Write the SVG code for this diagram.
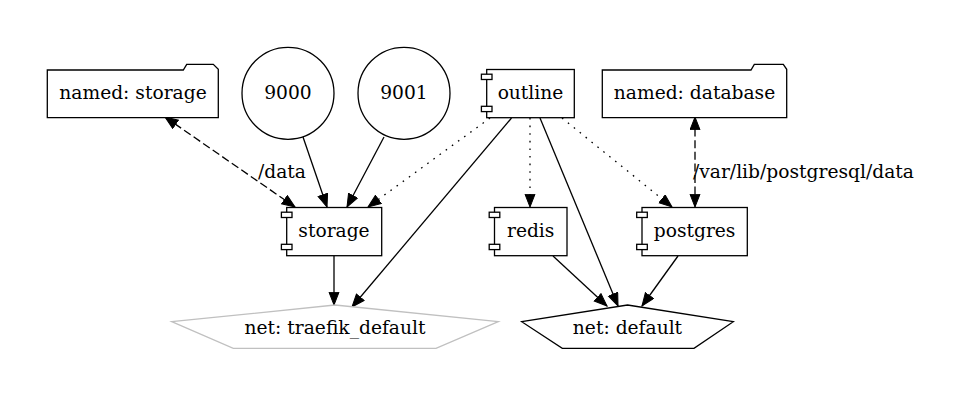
<svg xmlns="http://www.w3.org/2000/svg" width="965" height="401" viewBox="0 0 965 401">
<style>
text { font-family: "DejaVu Serif", "Liberation Serif", serif; font-size: 18.67px; fill: #000; }
.c { text-anchor: middle; }
.shape { fill: #fff; stroke: #000; stroke-width: 1.3; }
.gray { fill: #fff; stroke: #c0c0c0; stroke-width: 1.3; }
.e { fill: none; stroke: #000; stroke-width: 1.3; }
.dot { stroke-dasharray: 1.6,6; }
.dash { stroke-dasharray: 8,3.6; }
</style>
<defs>
<marker id="ah" markerUnits="userSpaceOnUse" markerWidth="16" markerHeight="12" refX="13.3" refY="5.5" orient="auto-start-reverse" viewBox="0 0 16 12">
<path d="M0.5,0.5 L13.3,5.5 L0.5,10.5 Z" fill="#000" stroke="#000" stroke-width="1"/>
</marker>
</defs>
<rect width="965" height="401" fill="#fff"/>
<g id="connectors">
<path class="e dash" d="M165,117 L295,207" marker-start="url(#ah)" marker-end="url(#ah)"/>
<text x="258" y="178">/data</text>
<path class="e" d="M303,137 L327,207" marker-end="url(#ah)"/>
<path class="e" d="M384,137 L347,207" marker-end="url(#ah)"/>
<path class="e dot" d="M490,118 L368,207" marker-end="url(#ah)"/>
<path class="e" d="M511.5,118 L352,307" marker-end="url(#ah)"/>
<path class="e dot" d="M530,118 L530,207" marker-end="url(#ah)"/>
<path class="e" d="M540,118 L618,306" marker-end="url(#ah)"/>
<path class="e dot" d="M562,118 L672,207" marker-end="url(#ah)"/>
<path class="e dash" d="M695,117 L695,207" marker-start="url(#ah)" marker-end="url(#ah)"/>
<text x="693" y="178">/var/lib/postgresql/data</text>
<path class="e" d="M334,256 L334,305" marker-end="url(#ah)"/>
<path class="e" d="M553,256 L607,306" marker-end="url(#ah)"/>
<path class="e" d="M678,256 L642,306" marker-end="url(#ah)"/>
</g>
<g id="named-storage">
<path class="shape" d="M218.3,117.7 L47.3,117.7 L47.3,70 L183.3,70 L186.7,64.3 L213.3,64.3 L218.3,69.3 Z"/>
<text class="c" x="133" y="99">named: storage</text>
</g>
<g id="p9000">
<circle class="shape" cx="288" cy="93.3" r="46"/>
<text class="c" x="288" y="99">9000</text>
</g>
<g id="p9001">
<circle class="shape" cx="404" cy="93.3" r="46"/>
<text class="c" x="404" y="99">9001</text>
</g>
<g id="outline">
<rect class="shape" x="486.7" y="69.5" width="87.6" height="48.2"/>
<rect class="shape" x="481.4" y="74.2" width="10.6" height="5.3"/>
<rect class="shape" x="481.4" y="106.3" width="10.6" height="5.3"/>
<text class="c" x="530.5" y="99">outline</text>
</g>
<g id="named-database">
<path class="shape" d="M786.7,117.7 L602.3,117.7 L602.3,70 L751,70 L754.3,64.3 L783.3,64.3 L786.7,69.3 Z"/>
<text class="c" x="694.5" y="99">named: database</text>
</g>
<g id="storage">
<rect class="shape" x="286.7" y="207.5" width="95" height="48.2"/>
<rect class="shape" x="281.4" y="212.2" width="10.6" height="5.3"/>
<rect class="shape" x="281.4" y="244.3" width="10.6" height="5.3"/>
<text class="c" x="334" y="237">storage</text>
</g>
<g id="redis">
<rect class="shape" x="494.5" y="207.5" width="72.5" height="48.2"/>
<rect class="shape" x="489.2" y="212.2" width="10.6" height="5.3"/>
<rect class="shape" x="489.2" y="244.3" width="10.6" height="5.3"/>
<text class="c" x="530.7" y="237">redis</text>
</g>
<g id="postgres">
<rect class="shape" x="642" y="207.5" width="105.3" height="48.2"/>
<rect class="shape" x="636.7" y="212.2" width="10.6" height="5.3"/>
<rect class="shape" x="636.7" y="244.3" width="10.6" height="5.3"/>
<text class="c" x="694.6" y="237">postgres</text>
</g>
<g id="net-traefik">
<polygon class="gray" points="335,305 498.3,321.7 436,348.3 233.3,348.3 171.7,321.7"/>
<text class="c" x="335" y="334">net: traefik_default</text>
</g>
<g id="net-default">
<polygon class="shape" points="627.5,305 733.3,321.7 694,348.3 562.3,348.3 521.7,321.7"/>
<text class="c" x="627.5" y="334">net: default</text>
</g>
</svg>
